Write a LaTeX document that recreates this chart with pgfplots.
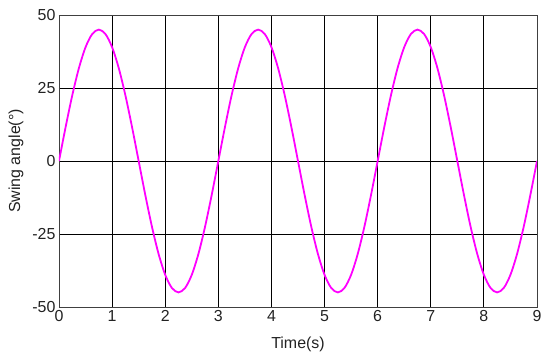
\documentclass[border=0pt]{standalone}
\usepackage{pgfplots}
\pgfplotsset{compat=1.18}
\usepackage{fontspec}
\setmainfont{Liberation Sans}
\definecolor{wave}{HTML}{FF00FF}
\definecolor{txt}{HTML}{222222}

\begin{document}
\begin{tikzpicture}[x=1bp,y=1bp]
\begin{axis}[
    scale only axis,
    at={(0,0)}, anchor=south west,
    width=478bp, height=292bp,
    xmin=0, xmax=9,
    ymin=-50, ymax=50,
    xtick={0,1,...,9},
    ytick={-50,-25,0,25,50},
    grid=major,
    major grid style={black, line width=0.8pt},
    axis line style={draw=black!75, line width=1pt},
    major tick length=0pt,
    tick label style={font=\fontsize{16}{18}\selectfont, text=txt},
    label style={font=\fontsize{16}{18}\selectfont, text=txt},
    /pgf/number format/assume math mode=true,
    xlabel={Time(s)},
    ylabel={Swing angle(°)},
    xlabel style={at={(axis description cs:0.5,-0.127)}, anchor=center},
    ylabel style={at={(axis description cs:-0.09,0.5)}, anchor=center},
]
\addplot[wave, line width=1.8pt, smooth] coordinates {
(0,0) (0.125,11.65) (0.25,22.5) (0.375,31.82) (0.5,38.97) (0.625,43.47)
(0.75,45) (0.875,43.47) (1,38.97) (1.125,31.82) (1.25,22.5) (1.375,11.65)
(1.5,0) (1.625,-11.65) (1.75,-22.5) (1.875,-31.82) (2,-38.97) (2.125,-43.47)
(2.25,-45) (2.375,-43.47) (2.5,-38.97) (2.625,-31.82) (2.75,-22.5) (2.875,-11.65)
(3,0) (3.125,11.65) (3.25,22.5) (3.375,31.82) (3.5,38.97) (3.625,43.47)
(3.75,45) (3.875,43.47) (4,38.97) (4.125,31.82) (4.25,22.5) (4.375,11.65)
(4.5,0) (4.625,-11.65) (4.75,-22.5) (4.875,-31.82) (5,-38.97) (5.125,-43.47)
(5.25,-45) (5.375,-43.47) (5.5,-38.97) (5.625,-31.82) (5.75,-22.5) (5.875,-11.65)
(6,0) (6.125,11.65) (6.25,22.5) (6.375,31.82) (6.5,38.97) (6.625,43.47)
(6.75,45) (6.875,43.47) (7,38.97) (7.125,31.82) (7.25,22.5) (7.375,11.65)
(7.5,0) (7.625,-11.65) (7.75,-22.5) (7.875,-31.82) (8,-38.97) (8.125,-43.47)
(8.25,-45) (8.375,-43.47) (8.5,-38.97) (8.625,-31.82) (8.75,-22.5) (8.875,-11.65)
(9,0)
};
\end{axis}
\path (-59bp,-54bp) rectangle (491bp,307bp);
\end{tikzpicture}
\end{document}
